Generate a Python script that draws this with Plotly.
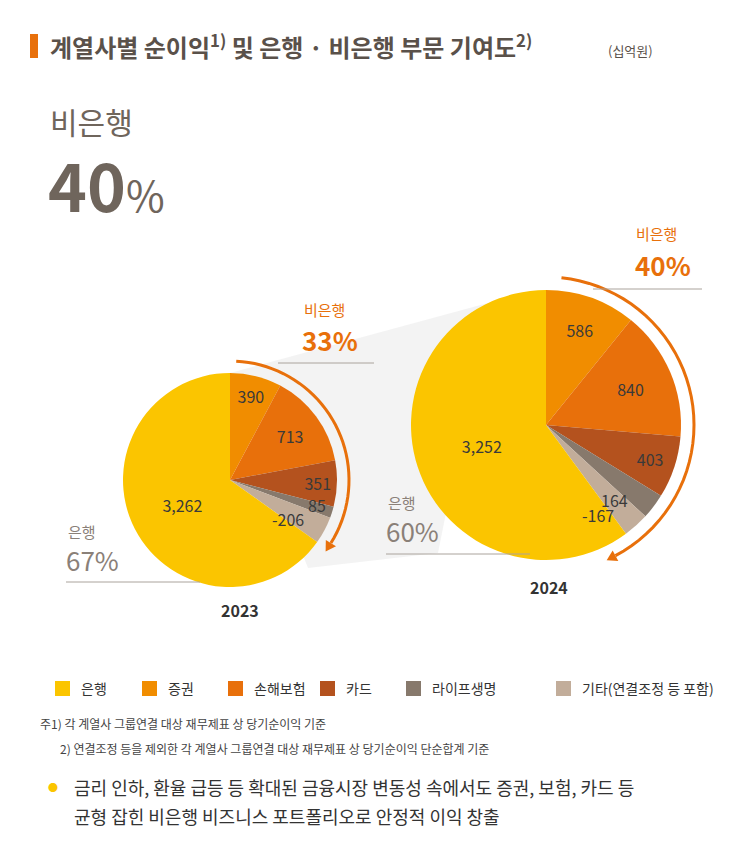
import math
import plotly.graph_objects as go

W, H = 730, 862
FONT = "Noto Sans CJK KR"

segments = ['증권', '손해보험', '카드', '라이프생명', '기타(연결조정 등 포함)', '은행']
colors = ['#F18D00', '#E8700B', '#B4521E', '#87796C', '#C2AD9A', '#FBC500']
vals_2023 = [390, 713, 351, 85, -206, 3262]
vals_2024 = [586, 840, 403, 164, -167, 3252]
legend_order = ['은행', '증권', '손해보험', '카드', '라이프생명', '기타(연결조정 등 포함)']
# labels of thin slices are set beside the slice instead of inside it
small = ['라이프생명', '기타(연결조정 등 포함)']
small_pos_2023 = [(309, 497), (280, 511)]
small_pos_2024 = [(606, 492), (590, 507)]


def px(x):
    return x / W


def py(y):
    return 1 - y / H


def dom(cx, cy, r):
    return dict(x=[px(cx - r), px(cx + r)], y=[py(cy + r), py(cy - r)])


fig = go.Figure()
annotations = []
shapes = []
for vals, d, pos in [(vals_2023, dom(222, 472, 107), small_pos_2023),
                     (vals_2024, dom(538, 417, 135), small_pos_2024)]:
    fig.add_trace(go.Pie(
        labels=segments, values=[abs(v) for v in vals],
        text=['' if s in small else f"{v:,}" for s, v in zip(segments, vals)], textinfo='text',
        textposition='inside', insidetextorientation='horizontal',
        textfont=dict(size=16, color='#3a3a3a', family=FONT),
        marker=dict(colors=colors, line=dict(width=0)),
        sort=False, direction='clockwise', rotation=0,
        domain=d, showlegend=False, hoverinfo='label+text'))
    for s, (x, y) in zip(small, pos):
        v = vals[segments.index(s)]
        annotations.append(dict(x=px(x), y=py(y), text=f"{v:,}", showarrow=False, xanchor='center',
                                yanchor='middle', font=dict(size=16, color='#3a3a3a', family=FONT)))

# legend drawn by hand to keep spacing of the original
leg_x = [47, 134, 220, 312, 398, 548]
for name, x in zip(legend_order, leg_x):
    c = colors[segments.index(name)]
    shapes.append(dict(type='rect', xref='paper', yref='paper', x0=px(x), x1=px(x + 15),
                       y0=py(688), y1=py(673), fillcolor=c, line=dict(width=0)))
    annotations.append(dict(x=px(x + 24), y=py(680), text=name, showarrow=False, xanchor='left',
                            yanchor='middle', font=dict(size=14, color='#333', family=FONT)))

# shadow band between the pies
shapes.append(dict(type='path', xref='paper', yref='paper', layer='below',
                   path=f"M {px(222)},{py(365)} L {px(480)},{py(295)} L {px(430)},{py(545)} L {px(300)},{py(560)} Z",
                   fillcolor='rgba(200,200,200,0.22)', line=dict(width=0)))


def arc(cx, cy, r, a0, a1):
    pts = []
    for i in range(41):
        a = math.radians(a0 + (a1 - a0) * i / 40)
        pts.append((cx + r * math.sin(a), cy - r * math.cos(a)))
    path = "M " + " L ".join(f"{px(x)},{py(y)}" for x, y in pts)
    shapes.append(dict(type='path', xref='paper', yref='paper', path=path,
                       line=dict(color='#E8700B', width=3)))
    a = math.radians(a1)
    x, y = pts[-1]
    tx, ty = math.cos(a), math.sin(a)
    nx, ny = -math.sin(a), math.cos(a)
    tip = (x + tx * 10, y + ty * 10)
    b1 = (x + nx * 6, y + ny * 6)
    b2 = (x - nx * 6, y - ny * 6)
    shapes.append(dict(type='path', xref='paper', yref='paper',
                       path=f"M {px(tip[0])},{py(tip[1])} L {px(b1[0])},{py(b1[1])} L {px(b2[0])},{py(b2[1])} Z",
                       fillcolor='#E8700B', line=dict(width=0)))


arc(222, 472, 119, 3, 122)
arc(538, 417, 148, 6, 152)


def line(x0, x1, y):
    shapes.append(dict(type='line', xref='paper', yref='paper', x0=px(x0), x1=px(x1), y0=py(y), y1=py(y),
                       line=dict(color='#AAA39C', width=1)))


line(270, 366, 355)
line(585, 694, 281)
line(58, 192, 574)
line(378, 522, 546)

shapes.append(dict(type='rect', xref='paper', yref='paper', x0=px(22), x1=px(30), y0=py(50), y1=py(26),
                   fillcolor='#E8700B', line=dict(width=0)))


def txt(x, y, s, size, color, bold=False, anchor='left'):
    annotations.append(dict(x=px(x), y=py(y), text=f"<b>{s}</b>" if bold else s, showarrow=False,
                            xanchor=anchor, yanchor='middle', font=dict(size=size, color=color, family=FONT)))


txt(40, 38, "계열사별 순이익<sup>1)</sup> 및 은행 · 비은행 부문 기여도<sup>2)</sup>", 24, '#5a514a', bold=True)
txt(598, 42, "(십억원)", 13, '#5a514a')
txt(40, 113, "비은행", 30, '#6f655c')
txt(38, 175, "<b>40</b><span style='font-size:42px'>%</span>", 66, '#6f655c')
txt(294, 301, "비은행", 15, '#E8700B')
txt(292, 331, "<b>33%</b>", 26, '#E8700B')
txt(626, 226, "비은행", 15, '#E8700B')
txt(625, 256, "<b>40%</b>", 26, '#E8700B')
txt(58, 523, "은행", 15, '#8a8078')
txt(56, 551, "67%", 26, '#8a8078')
txt(378, 494, "은행", 15, '#8a8078')
txt(376, 522, "60%", 26, '#8a8078')
txt(232, 602, "2023", 16, '#333', bold=True, anchor='center')
txt(541, 579, "2024", 16, '#333', bold=True, anchor='center')
txt(30, 715, "주1) 각 계열사 그룹연결 대상 재무제표 상 당기순이익 기준", 12, '#444')
txt(50, 740, "2) 연결조정 등을 제외한 각 계열사 그룹연결 대상 재무제표 상 당기순이익 단순합계 기준", 12, '#444')
txt(38, 779, "<span style='color:#FBC500'>●</span>", 10, '#444')
txt(64, 779, "금리 인하, 환율 급등 등 확대된 금융시장 변동성 속에서도 증권, 보험, 카드 등", 18, '#333')
txt(64, 808, "균형 잡힌 비은행 비즈니스 포트폴리오로 안정적 이익 창출", 18, '#333')

fig.update_layout(width=W, height=H, margin=dict(l=0, r=0, t=0, b=0),
                  paper_bgcolor='white', plot_bgcolor='white',
                  font=dict(family=FONT), shapes=shapes, annotations=annotations)
fig.write_html("out.html")
